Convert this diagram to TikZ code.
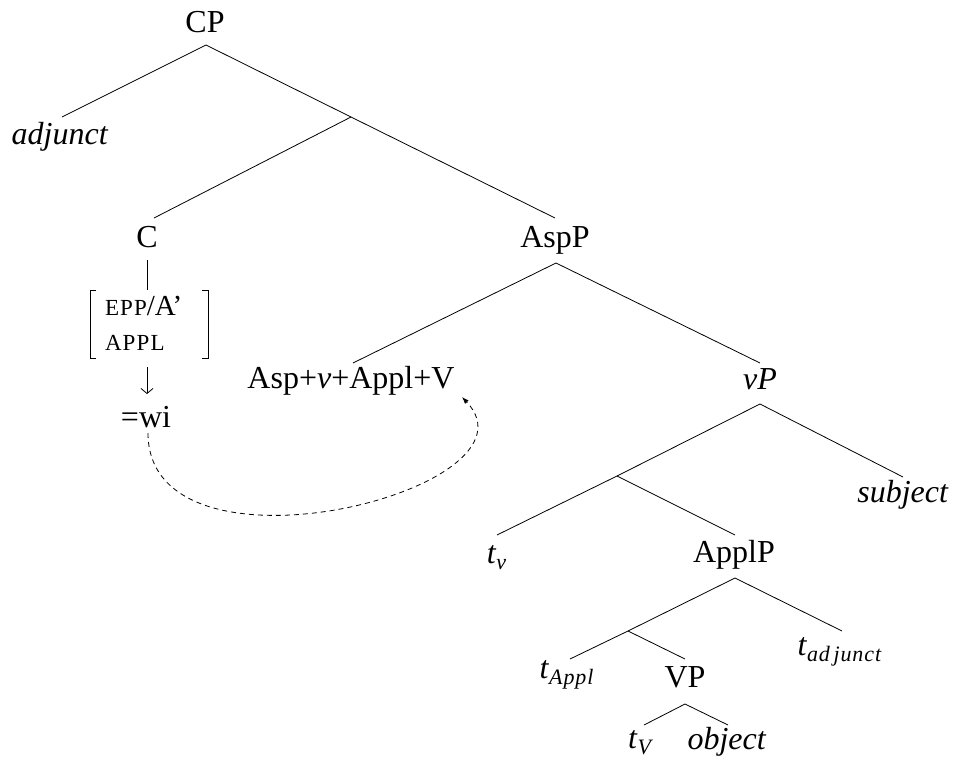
\documentclass[tikz,border=0pt]{standalone}
\usepackage{fontspec}
\setmainfont{Liberation Serif}
\usetikzlibrary{arrows.meta}
\newcommand{\trace}[1]{\textit{t}\raisebox{-0.2em}{\fontsize{22}{26}\selectfont\addfontfeature{LetterSpace=4}\textit{#1}}}
\newcommand{\smallcapsish}[1]{{\fontsize{23}{27}\selectfont\addfontfeature{LetterSpace=5}#1}}
\begin{document}
\begin{tikzpicture}[x=1pt,y=-1pt,
  every node/.style={inner sep=0pt,outer sep=0pt,anchor=base,font=\fontsize{32}{38}\selectfont},
  branch/.style={line width=0.8pt},
  feat/.style={anchor=base west,font=\fontsize{29}{34}\selectfont},
  spellout/.style={line width=0.8pt,-{Straight Barb[length=5pt,width=12pt]}},
  mover/.style={line width=0.8pt,dash pattern=on 5pt off 4pt,-{Latex[length=7pt,width=5pt]}}]
\useasboundingbox (0,0) rectangle (956,761);
% nodes
\node (cp) at (205,32) {CP};
\node (adj) at (60,144) {\textit{adjunct}};
\node (c) at (147,247) {C};
\node (aspp) at (555,247) {AspP};
\node (f1) [feat] at (105,315) {\smallcapsish{EPP}/A’};
\node (f2) [feat] at (105,350) {\smallcapsish{APPL}};
\node (wi) at (146,427) {=wi};
\node (asp) at (351,388) {Asp+\textit{v}+Appl+V};
\node (vp) at (760,389) {\textit{vP}};
\node (subj) at (903,502) {\textit{subject}};
\node (tv) at (497,563) {\trace{v}};
\node (applp) at (734,562) {ApplP};
\node (tappl) at (567,678) {\trace{Appl}};
\node (tadj) at (840,655) {\trace{ad\,junct}};
\node (vpp) at (685,687) {VP};
\node (tV) at (641,748) {\trace{V}};
\node (obj) at (727,749) {\textit{object}};
% branching points
\coordinate (cpB) at (206,45);
\coordinate (adjT) at (62,117);
\coordinate (cbar) at (351,117);
\coordinate (cT) at (154,218);
\coordinate (cB) at (147,260);
\coordinate (featT) at (147,290);
\coordinate (featB) at (147,367);
\coordinate (wiT) at (147,394);
\coordinate (asppT) at (555,218);
\coordinate (asppB) at (556,263);
\coordinate (aspT) at (353,363);
\coordinate (vpT) at (760,363);
\coordinate (vpB) at (760,404);
\coordinate (vbar) at (617,476);
\coordinate (subjT) at (903,477);
\coordinate (tvT) at (497,535);
\coordinate (applpT) at (735,535);
\coordinate (applpB) at (735,578);
\coordinate (abar) at (628,631);
\coordinate (tadjT) at (842,631);
\coordinate (tapplT) at (570,659);
\coordinate (vppT) at (685,659);
\coordinate (vppB) at (685,704);
\coordinate (tVT) at (644,725);
\coordinate (objT) at (728,725);
\coordinate (wiB) at (148,433);
\coordinate (aspTip) at (462,397);
% branches
\draw[branch] (cpB) -- (adjT);
\draw[branch] (cpB) -- (cbar) -- (asppT);
\draw[branch] (cbar) -- (cT);
\draw[branch] (cB) -- (featT);
\draw[branch] (asppB) -- (aspT);
\draw[branch] (asppB) -- (vpT);
\draw[branch] (vpB) -- (vbar) -- (tvT);
\draw[branch] (vpB) -- (subjT);
\draw[branch] (vbar) -- (applpT);
\draw[branch] (applpB) -- (abar) -- (tapplT);
\draw[branch] (applpB) -- (tadjT);
\draw[branch] (abar) -- (vppT);
\draw[branch] (vppB) -- (tVT);
\draw[branch] (vppB) -- (objT);
% feature brackets
\draw[branch] (96,290) -- (90,290) -- (90,358) -- (96,358);
\draw[branch] (202,290) -- (208,290) -- (208,358) -- (202,358);
% spell-out arrow
\draw[spellout] (featB) -- (wiT);
% movement
\draw[mover] (wiB) .. controls (148,590) and (550,490) .. (aspTip);
\end{tikzpicture}
\end{document}
